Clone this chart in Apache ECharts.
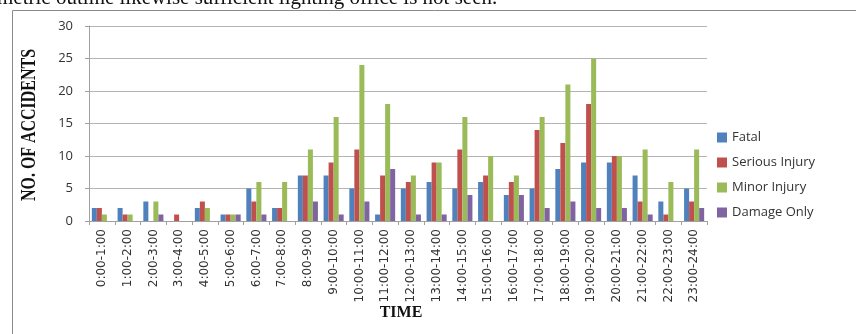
<!DOCTYPE html>
<html>
<head>
<meta charset="utf-8">
<script src="https://cdn.jsdelivr.net/npm/echarts@6/dist/echarts.min.js"></script>
<style>
  html, body { margin: 0; padding: 0; background: #fff; }
  #chart { width: 856px; height: 334px; }
</style>
</head>
<body>
<div id="chart"></div>
<script>
// Hour slots
const hours = [
  '0:00-1:00', '1:00-2:00', '2:00-3:00', '3:00-4:00', '4:00-5:00', '5:00-6:00',
  '6:00-7:00', '7:00-8:00', '8:00-9:00', '9:00-10:00', '10:00-11:00', '11:00-12:00',
  '12:00-13:00', '13:00-14:00', '14:00-15:00', '15:00-16:00', '16:00-17:00', '17:00-18:00',
  '18:00-19:00', '19:00-20:00', '20:00-21:00', '21:00-22:00', '22:00-23:00', '23:00-24:00'
]

// Accidents per slot
const fatal = [2, 2, 3, 0, 2, 1, 5, 2, 7, 7, 5, 1, 5, 6, 5, 6, 4, 5, 8, 9, 9, 7, 3, 5]
const serious = [2, 1, 0, 1, 3, 1, 3, 2, 7, 9, 11, 7, 6, 9, 11, 7, 6, 14, 12, 18, 10, 3, 1, 3]
const minor = [1, 1, 3, 0, 2, 1, 6, 6, 11, 16, 24, 18, 7, 9, 16, 10, 7, 16, 21, 25, 10, 11, 6, 11]
const damage = [0, 0, 1, 0, 0, 1, 1, 0, 3, 1, 3, 8, 1, 1, 4, 0, 4, 2, 3, 2, 2, 1, 0, 2]

const yTicks = [0, 5, 10, 15, 20, 25, 30]

// Colors (Office 2007 palette)
const COLOR_FATAL = '#4f81bd'
const COLOR_SERIOUS = '#c0504d'
const COLOR_MINOR = '#9bbb59'
const COLOR_DAMAGE = '#8064a2'

const chart = echarts.init(document.getElementById('chart'))

const bar = (name, data, color) => ({
  name,
  type: 'bar',
  data,
  barGap: '0%',
  barCategoryGap: '22%',
  itemStyle: { color },
  emphasis: { disabled: true },
})

chart.setOption({
  animation: false,
  textStyle: { fontFamily: '"Open Sans", sans-serif' },
  grid: { left: 89, right: 149, top: 26, bottom: 113 },
  graphic: [
    // page frame around the figure
    {
      type: 'rect',
      shape: { x: 12.5, y: 10.5, width: 900, height: 400 },
      style: { fill: 'none', stroke: '#8a8a8a', lineWidth: 1 },
      silent: true,
    },
    // paper text cut off above the figure
    {
      type: 'text',
      left: -3,
      top: -12,
      style: {
        text: 'metric outline likewise sufficient lighting office is not seen.',
        font: '21px "Liberation Serif", serif',
        fill: '#111',
      },
    },
    {
      type: 'text',
      x: 30,
      y: 125,
      rotation: Math.PI / 2,
      scaleX: 0.84,
      scaleY: 1.05,
      style: {
        text: 'NO. OF ACCIDENTS',
        font: 'bold 19px "Liberation Serif", serif',
        fill: '#111',
        align: 'center',
        verticalAlign: 'middle',
      },
    },
    {
      type: 'text',
      x: 401,
      y: 313,
      style: {
        text: 'TIME',
        font: 'bold 16px "Liberation Serif", serif',
        fill: '#111',
        align: 'center',
        verticalAlign: 'middle',
      },
    },
  ],
  legend: {
    orient: 'vertical',
    left: 712,
    top: 126,
    itemWidth: 10,
    itemHeight: 10,
    itemGap: 12,
    icon: 'rect',
    textStyle: { fontSize: 13, color: '#333', fontFamily: '"Open Sans", sans-serif' },
    data: ['Fatal', 'Serious Injury', 'Minor Injury', 'Damage Only'],
  },
  xAxis: {
    type: 'category',
    data: hours,
    axisLine: { lineStyle: { color: '#a0a0a0' } },
    axisTick: { show: true, length: 4, lineStyle: { color: '#a0a0a0' } },
    axisLabel: {
      rotate: 90,
      interval: 0,
      fontSize: 12,
      color: '#333',
      margin: 8,
      fontFamily: '"DejaVu Sans", sans-serif',
    },
  },
  yAxis: {
    type: 'value',
    min: yTicks[0],
    max: yTicks[yTicks.length - 1],
    interval: 5,
    axisLine: { show: true, lineStyle: { color: '#a0a0a0' } },
    axisTick: { show: true, length: 4, lineStyle: { color: '#a0a0a0' } },
    axisLabel: { fontSize: 13, color: '#333', margin: 16 },
    splitLine: { lineStyle: { color: '#b4b4b4' } },
  },
  series: [
    bar('Fatal', fatal, COLOR_FATAL),
    bar('Serious Injury', serious, COLOR_SERIOUS),
    bar('Minor Injury', minor, COLOR_MINOR),
    bar('Damage Only', damage, COLOR_DAMAGE),
  ],
})
</script>
</body>
</html>
